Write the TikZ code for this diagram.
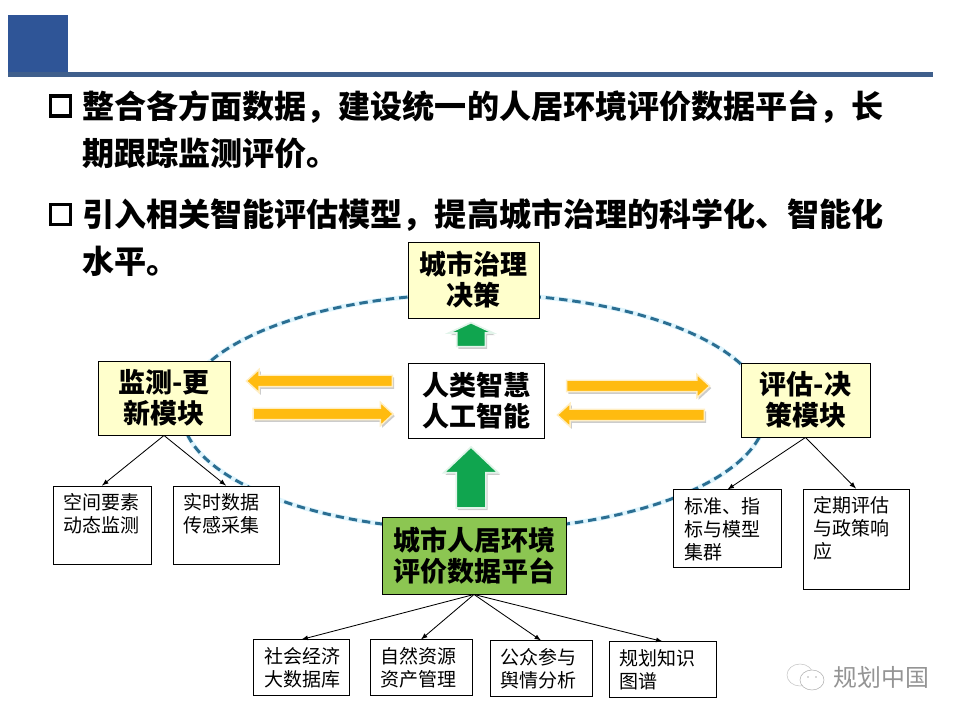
\documentclass[tikz,border=0pt]{standalone}
\usepackage{fontspec}
\usetikzlibrary{shapes.arrows,shadows}
\setmainfont{Noto Sans CJK SC}
\definecolor{titleblue}{HTML}{2F5597}
\definecolor{ruleblue}{HTML}{3F5F8C}
\definecolor{ringblue}{HTML}{2B6F93}
\definecolor{paleyellow}{HTML}{FFFFCC}
\definecolor{leafgreen}{HTML}{8CC652}
\definecolor{upgreen}{HTML}{10A54F}
\definecolor{amber}{HTML}{FFBB10}
\newcommand{\toptext}[3]{\parbox[c][#2cm][t]{#1cm}{\baselineskip=16.4pt \vspace{.125cm}#3}}
\tikzset{
  headline/.style={anchor=west,inner sep=0pt,font=\fontsize{22.8}{24}\selectfont\bfseries},
  bulletbox/.style={draw=black,line width=2.4pt,minimum size=.5cm,inner sep=0pt},
  mainbox/.style={draw=black,line width=.65pt,align=center,inner sep=0pt,font=\fontsize{19.2}{22}\selectfont\bfseries},
  smallbox/.style={draw=black,fill=white,line width=.6pt,inner xsep=.26cm,inner ysep=.06cm,font=\fontsize{13.5}{16.4}\selectfont},
  flowarrow/.style={single arrow,inner xsep=0pt,inner ysep=.125cm,single arrow head extend=.15cm,single arrow tip angle=85,
    draw=amber!25,fill=amber,line width=1pt,
    drop shadow={shadow xshift=1.2pt,shadow yshift=-1.5pt,fill=black!40}},
  riseup/.style={single arrow,shape border rotate=90,inner ysep=0pt,draw=upgreen!12,fill=upgreen,line width=1.2pt,
    drop shadow={shadow xshift=1.2pt,shadow yshift=-1.5pt,fill=black!40}},
  link/.style={draw=black,line width=.6pt,-latex}
}
\begin{document}
\begin{tikzpicture}[x=.025cm,y=-.025cm]
\useasboundingbox (0,0) rectangle (960,720);
% title bar
\fill[titleblue] (8,15) rectangle (68,77);
\fill[ruleblue] (8,72) rectangle (933,77);
% bullets
\node[bulletbox] (mark1) at (60.5,106) {};
\node[headline] (line1) at (82,107) {整合各方面数据，建设统一的人居环境评价数据平台，长};
\node[headline] (line2) at (82,153) {期跟踪监测评价。};
\node[bulletbox] (mark2) at (60.5,214.5) {};
\node[headline] (line3) at (82,215) {引入相关智能评估模型，提高城市治理的科学化、智能化};
\node[headline] (line4) at (82,261) {水平。};
% ring
\draw[ringblue,line width=2.1pt,dash pattern=on 6pt off 3.5pt,
  preaction={draw=cyan!12,line width=3.4pt}] (474,412) ellipse [x radius=292,y radius=118];
% main boxes
\node[mainbox,fill=paleyellow,minimum width=3.275cm,minimum height=1.9cm] (decide) at (473.5,280) {城市治理\\决策};
\node[mainbox,fill=white,minimum width=3.4cm,minimum height=1.875cm] (brain) at (476,400.5) {人类智慧\\人工智能};
\node[mainbox,fill=paleyellow,minimum width=3.3cm,minimum height=1.85cm] (monitor) at (164,398) {监测-更\\新模块};
\node[mainbox,fill=paleyellow,minimum width=3.225cm,minimum height=1.85cm] (assess) at (805.5,400) {评估-决\\策模块};
\node[mainbox,fill=leafgreen,minimum width=4.6cm,minimum height=1.925cm] (base) at (474,555.5) {城市人居环境\\评价数据平台};
% block arrows
\node[flowarrow,shape border rotate=180,minimum height=3.65cm] (flowa) at (322.5,381) {};
\node[flowarrow,minimum height=3.5cm] (flowb) at (320,414) {};
\node[flowarrow,minimum height=3.575cm] (flowc) at (635,386) {};
\node[flowarrow,shape border rotate=180,minimum height=3.675cm] (flowd) at (634,415) {};
\node[riseup,inner xsep=.3375cm,minimum height=.6cm,single arrow head extend=.2cm,single arrow tip angle=130] (riseb) at (471,338) {};
\node[riseup,inner xsep=.35cm,minimum height=1.525cm,single arrow head extend=.31cm,single arrow tip angle=93] (risea) at (471,484.5) {};
% small boxes
\node[smallbox] (spatial) at (102,525) {\toptext{1.93}{1.83}{空间要素\\动态监测}};
\node[smallbox] (sensor) at (226,525) {\toptext{2.13}{1.83}{实时数据\\传感采集}};
\node[smallbox] (index) at (727.5,528.5) {\toptext{2.16}{1.81}{标准、指\\标与模型\\集群}};
\node[smallbox] (policy) at (856,539) {\toptext{2.13}{2.38}{定期评估\\与政策响\\应}};
\node[smallbox] (econ) at (301.5,667.5) {\toptext{1.86}{1.26}{社会经济\\大数据库}};
\node[smallbox] (nature) at (421,667.5) {\toptext{2.03}{1.26}{自然资源\\资产管理}};
\node[smallbox] (public) at (541,668.5) {\toptext{2.03}{1.26}{公众参与\\舆情分析}};
\node[smallbox] (plan) at (662.5,669.5) {\toptext{2.15}{1.26}{规划知识\\图谱}};
% links
\draw[link] (monitor.south) -- (spatial.north);
\draw[link] (monitor.south) -- (sensor.north);
\draw[link] (assess.south) -- (index.north);
\draw[link] (assess.south) -- (policy.north);
\draw[link] (base.south) -- (econ.north);
\draw[link] (base.south) -- (nature.north);
\draw[link] (base.south) -- (public.north);
\draw[link] (base.south) -- (plan.north);
% watermark
\draw[black!22,line width=.4pt] (800,675) ellipse [x radius=13,y radius=11];
\draw[black!30,fill=white,line width=.4pt] (812,680) ellipse [x radius=12,y radius=10];
\fill[black!30] (808,677) circle (.8) (816,677) circle (.8);
\node[inner sep=0pt,anchor=west,text=black!42,font=\fontsize{17}{20}\selectfont] (stamp) at (833,677) {规划中国};
\end{tikzpicture}
\end{document}
